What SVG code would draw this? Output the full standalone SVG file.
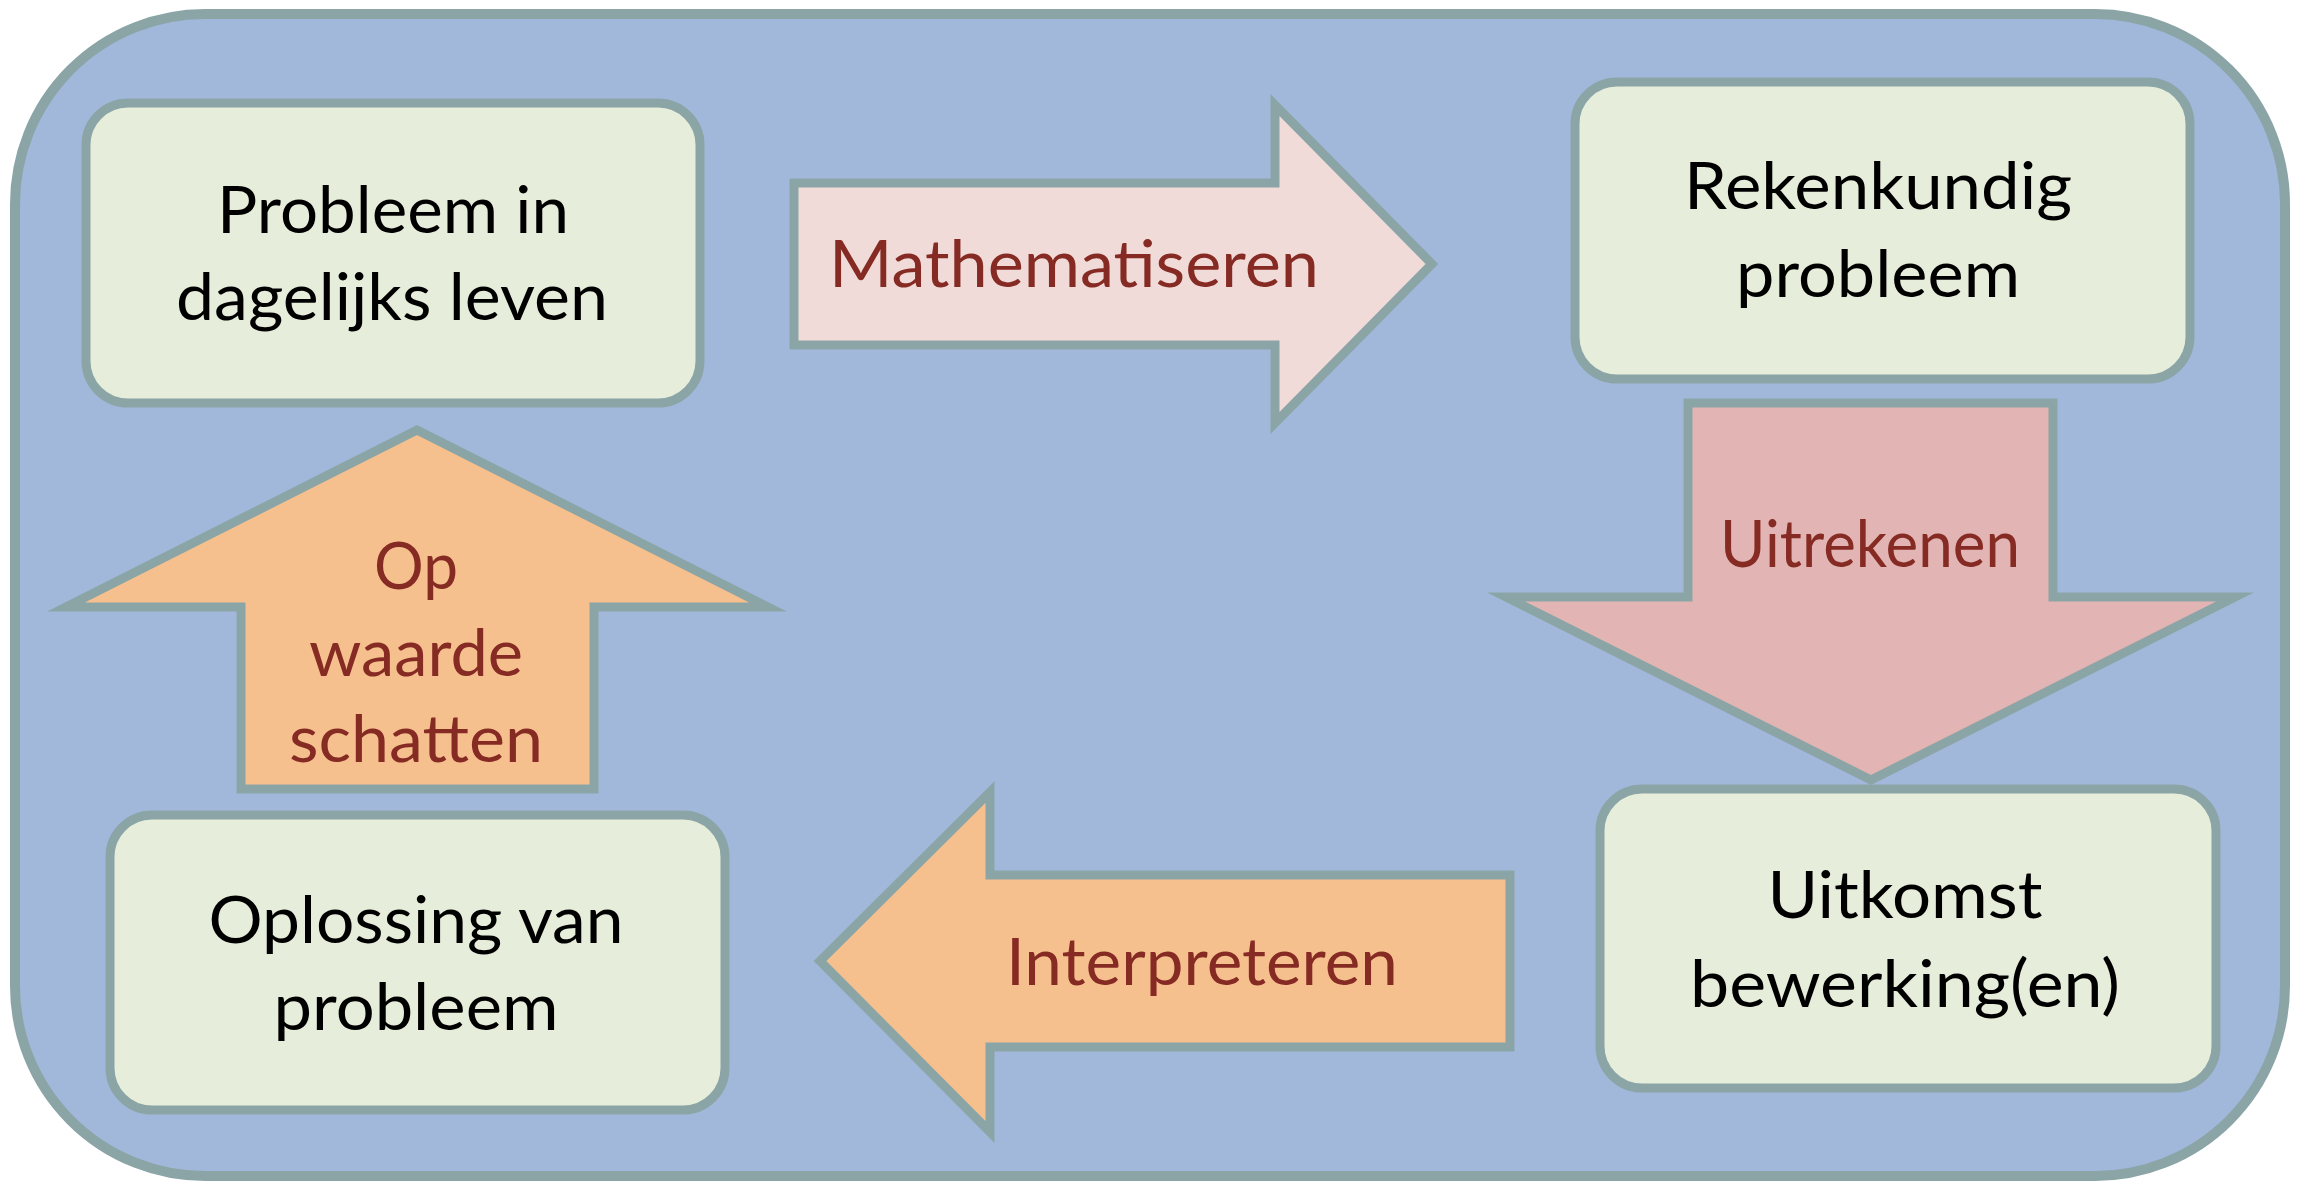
<svg xmlns="http://www.w3.org/2000/svg" width="2300" height="1182" viewBox="0 0 2300 1182">
<style>
.frame{fill:#a2b8da;stroke:#8ba5a7;stroke-width:10}
.box{fill:#e6edda;stroke:#8ba5a7;stroke-width:9}
.arr{stroke:#8ba5a7;stroke-width:9;stroke-linejoin:miter;stroke-miterlimit:10}
.t{font-family:Lato,"Open Sans","Liberation Sans",sans-serif;font-size:65px;fill:#000;text-anchor:middle}
.a{font-family:Lato,"Open Sans","Liberation Sans",sans-serif;font-size:65px;fill:#862a24;text-anchor:middle}
</style>
<rect class="frame" x="15" y="14" width="2270" height="1162" rx="190" ry="190"/>
<g id="connectors">
  <g id="arrow-mathematiseren">
    <polygon class="arr" fill="#f0dbd9" points="794,183 1275,183 1275,105 1432,264 1275,423 1275,345 794,345"/>
    <text class="a" x="1074" y="287" textLength="490" lengthAdjust="spacingAndGlyphs">Mathematiseren</text>
  </g>
  <g id="arrow-uitrekenen">
    <polygon class="arr" fill="#e2b4b3" points="1688,403 2053,403 2053,597 2235,597 1871,780 1506,597 1688,597"/>
    <text class="a" x="1870" y="567" textLength="300" lengthAdjust="spacingAndGlyphs">Uitrekenen</text>
  </g>
  <g id="arrow-interpreteren">
    <polygon class="arr" fill="#f6c08e" points="1510,875 990,875 990,792 820,961 990,1132 990,1047 1510,1047"/>
    <text class="a" x="1202" y="985" textLength="392" lengthAdjust="spacingAndGlyphs">Interpreteren</text>
  </g>
  <g id="arrow-op-waarde-schatten">
    <polygon class="arr" fill="#f6c08e" points="241,789 241,607 66,607 417,430 768,607 594,607 594,789"/>
    <text class="a" x="416" y="589" textLength="84" lengthAdjust="spacingAndGlyphs">Op</text>
    <text class="a" x="416" y="676" textLength="214" lengthAdjust="spacingAndGlyphs">waarde</text>
    <text class="a" x="416" y="762" textLength="254" lengthAdjust="spacingAndGlyphs">schatten</text>
  </g>
</g>
<g id="node-probleem-dagelijks">
  <rect class="box" x="86" y="103" width="614" height="300" rx="42" ry="42"/>
  <text class="t" x="393" y="233" textLength="352" lengthAdjust="spacingAndGlyphs">Probleem in</text>
  <text class="t" x="392" y="320" textLength="432" lengthAdjust="spacingAndGlyphs">dagelijks leven</text>
</g>
<g id="node-rekenkundig">
  <rect class="box" x="1575" y="82" width="615" height="297" rx="42" ry="42"/>
  <text class="t" x="1878" y="209" textLength="388" lengthAdjust="spacingAndGlyphs">Rekenkundig</text>
  <text class="t" x="1878" y="297" textLength="284" lengthAdjust="spacingAndGlyphs">probleem</text>
</g>
<g id="node-uitkomst">
  <rect class="box" x="1600" y="789" width="616" height="299" rx="42" ry="42"/>
  <text class="t" x="1905" y="918" textLength="275" lengthAdjust="spacingAndGlyphs">Uitkomst</text>
  <text class="t" x="1905" y="1007" textLength="430" lengthAdjust="spacingAndGlyphs">bewerking(en)</text>
</g>
<g id="node-oplossing">
  <rect class="box" x="110" y="815" width="615" height="295" rx="42" ry="42"/>
  <text class="t" x="416" y="943" textLength="415" lengthAdjust="spacingAndGlyphs">Oplossing van</text>
  <text class="t" x="416" y="1030" textLength="285" lengthAdjust="spacingAndGlyphs">probleem</text>
</g>
</svg>
